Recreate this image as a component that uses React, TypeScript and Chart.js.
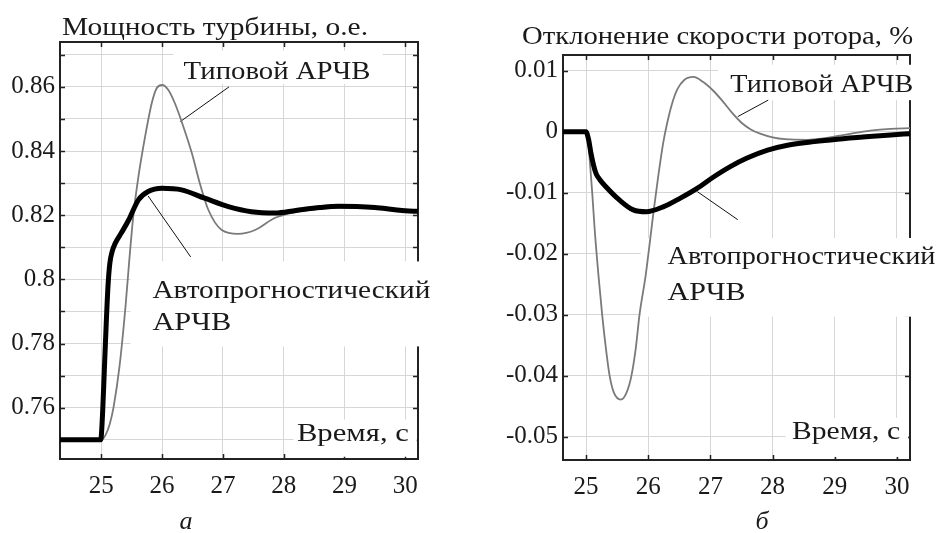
import React, { useEffect, useRef } from "react";
import { Chart, registerables } from "chart.js";

Chart.register(...registerables);

// ---------- DATA ----------
const powerTypicalT = [24.32, 25.0, 25.07, 25.14, 25.2, 25.3, 25.4, 25.46, 25.53, 25.61, 25.72, 25.83, 25.91, 26.0, 26.1, 26.21, 26.35, 26.49, 26.62, 26.76, 26.98, 27.25, 27.53, 27.86, 28.2, 28.6, 29.0, 29.4, 29.8, 30.21];
const powerTypicalV = [0.75, 0.75, 0.7515, 0.755, 0.76, 0.773, 0.792, 0.806, 0.8205, 0.832, 0.8445, 0.855, 0.8596, 0.8606, 0.8591, 0.8549, 0.8476, 0.8393, 0.83, 0.8217, 0.8154, 0.8142, 0.8154, 0.8192, 0.821, 0.822, 0.8224, 0.8222, 0.8216, 0.8213];

const powerAutoT = [24.32, 24.99, 25.02, 25.05, 25.08, 25.11, 25.14, 25.18, 25.23, 25.33, 25.45, 25.61, 25.77, 26.0, 26.32, 26.7, 27.09, 27.47, 27.86, 28.2, 28.6, 28.9, 29.2, 29.5, 29.8, 30.0, 30.21];
const powerAutoV = [0.75, 0.75, 0.758, 0.772, 0.786, 0.798, 0.805, 0.8088, 0.8113, 0.8145, 0.8185, 0.8248, 0.8274, 0.8284, 0.8279, 0.8253, 0.8227, 0.8211, 0.8207, 0.8215, 0.8224, 0.8228, 0.8227, 0.8224, 0.8218, 0.8214, 0.8212];

const speedTypicalT = [24.63, 25.0, 25.03, 25.06, 25.1, 25.14, 25.2, 25.26, 25.32, 25.38, 25.45, 25.56, 25.65, 25.73, 25.8, 25.86, 25.96, 26.05, 26.09, 26.16, 26.24, 26.3, 26.38, 26.47, 26.58, 26.73, 26.88, 27.05, 27.2, 27.35, 27.5, 27.65, 27.8, 28.0, 28.2, 28.57, 28.79, 29.2, 29.57, 29.9, 30.21];
const speedTypicalV = [0, 0, -0.001, -0.0046, -0.01, -0.0161, -0.0235, -0.03, -0.0355, -0.04, -0.0428, -0.0439, -0.0428, -0.04, -0.0355, -0.03, -0.0235, -0.0161, -0.0128, -0.0074, -0.0019, 0.0012, 0.0045, 0.007, 0.0085, 0.009, 0.0082, 0.0067, 0.005, 0.0031, 0.0015, 0.0004, -0.0003, -0.0009, -0.0012, -0.0013, -0.0011, -0.0004, 0.0002, 0.0005, 0.0006];

const speedAutoT = [24.63, 25.0, 25.04, 25.08, 25.12, 25.16, 25.22, 25.32, 25.54, 25.76, 25.97, 26.24, 26.51, 26.78, 27.05, 27.32, 27.59, 27.92, 28.24, 28.67, 29.04, 29.5, 29.9, 30.21];
const speedAutoV = [0, 0, -0.0012, -0.0035, -0.0054, -0.0068, -0.0078, -0.009, -0.0112, -0.0128, -0.0131, -0.0123, -0.0109, -0.0093, -0.0074, -0.0057, -0.0043, -0.003, -0.0022, -0.0016, -0.0012, -0.0008, -0.0005, -0.0003];

const timeTicks = [25, 26, 27, 28, 29, 30];
const powerYTicks = [0.75, 0.76, 0.77, 0.78, 0.79, 0.8, 0.81, 0.82, 0.83, 0.84, 0.85, 0.86, 0.87];
const speedYTicks = [-0.05, -0.04, -0.03, -0.02, -0.01, 0, 0.01];

const labelTypical = "Типовой АРЧВ";
const labelAuto1 = "Автопрогностический";
const labelAuto2 = "АРЧВ";
const labelTime = "Время, с";
const titlePower = "Мощность турбины, о.е.";
const titleSpeed = "Отклонение скорости ротора, %";

// ---------- STYLE ----------
const FONT = "'Liberation Serif', 'Times New Roman', serif";
const FS = 26;
const TICK_FS = 25;
const TEXT = "#1a1a1a";

const toPts = (t: number[], v: number[]) => t.map((x, i) => ({ x, y: v[i] }));

function drawText(ctx: any, text: string, X: number, Y: number, align: string, w?: number) {
  ctx.save();
  ctx.translate(X, Y);
  if (w) {
    const m = ctx.measureText(text).width;
    ctx.scale(w / m, 1);
  }
  ctx.textAlign = align;
  ctx.fillText(text, 0, 0);
  ctx.restore();
}

const annotPlugin = {
  id: "annot",
  beforeDatasetsDraw(chart: any, _args: any, opts: any) {
    const { ctx, chartArea } = chart;
    const { left, right, top, bottom } = chartArea;
    const xs = chart.scales.x;
    const ys = chart.scales.y;
    const px = (v: number) => xs.getPixelForValue(v);
    const py = (v: number) => ys.getPixelForValue(v);
    ctx.save();
    // frame
    ctx.strokeStyle = "#222";
    ctx.lineWidth = 2;
    ctx.strokeRect(left, top, right - left, bottom - top);
    // inner tick marks
    ctx.lineWidth = 1.5;
    ctx.beginPath();
    for (const t of opts.xTicks) {
      const X = Math.round(px(t)) + 0.5;
      ctx.moveTo(X, top); ctx.lineTo(X, top + 5);
      ctx.moveTo(X, bottom); ctx.lineTo(X, bottom - 5);
    }
    for (const t of opts.yTicks) {
      const Y = Math.round(py(t)) + 0.5;
      ctx.moveTo(left, Y); ctx.lineTo(left + 5, Y);
      ctx.moveTo(right, Y); ctx.lineTo(right - 5, Y);
    }
    ctx.stroke();
    // white boxes
    ctx.fillStyle = "#fff";
    for (const b of opts.boxes) {
      const x1 = px(b[0]), x2 = px(b[2]), y1 = py(b[1]), y2 = py(b[3]);
      ctx.fillRect(Math.min(x1, x2), Math.min(y1, y2), Math.abs(x2 - x1), Math.abs(y2 - y1));
    }
    // labels
    ctx.fillStyle = TEXT;
    ctx.font = `${FS}px ${FONT}`;
    ctx.textBaseline = "middle";
    for (const l of opts.labels) {
      drawText(ctx, l.text, px(l.x), py(l.y), l.align || "left", l.w);
    }
    // leader lines
    ctx.strokeStyle = "#111";
    ctx.lineWidth = 1;
    ctx.beginPath();
    for (const s of opts.leaders) {
      ctx.moveTo(px(s[0]), py(s[1]));
      ctx.lineTo(px(s[2]), py(s[3]));
    }
    ctx.stroke();
    // title
    ctx.font = `${FS}px ${FONT}`;
    drawText(ctx, opts.title.text, left + opts.title.dx, top + opts.title.dy, "left", opts.title.w);
    // sub-caption
    ctx.font = `italic ${FS}px ${FONT}`;
    drawText(ctx, opts.sub.text, opts.sub.px, opts.sub.py, "center");
    ctx.restore();
  },
};

function makeConfig(p: any): any {
  return {
    type: "line",
    data: {
      datasets: [
        {
          data: p.auto,
          borderColor: "#000",
          borderWidth: 5,
          pointRadius: 0,
          cubicInterpolationMode: "monotone",
          fill: false,
        },
        {
          data: p.typical,
          borderColor: "#7a7a7a",
          borderWidth: 1.8,
          pointRadius: 0,
          cubicInterpolationMode: "monotone",
          fill: false,
        },
      ],
    },
    options: {
      responsive: false,
      animation: false,
      devicePixelRatio: 1,
      layout: { padding: { top: p.padTop, right: p.padRight, left: 0, bottom: 0 } },
      plugins: {
        legend: { display: false },
        tooltip: { enabled: false },
        annot: p.annot,
      },
      scales: {
        x: {
          type: "linear",
          min: p.xMin,
          max: p.xMax,
          afterBuildTicks: (s: any) => { s.ticks = timeTicks.map((v) => ({ value: v })); },
          afterFit: (s: any) => { s.height = p.xAxisH; },
          grid: { color: "#d6d6d6", lineWidth: 1, drawTicks: false },
          border: { display: false },
          ticks: {
            font: { family: FONT, size: TICK_FS },
            color: TEXT,
            padding: p.xPad,
            maxRotation: 0,
            autoSkip: false,
            callback: (v: number) => String(v),
          },
        },
        y: {
          type: "linear",
          min: p.yMin,
          max: p.yMax,
          afterBuildTicks: (s: any) => { s.ticks = p.yTicks.map((v: number) => ({ value: v })); },
          afterFit: (s: any) => { s.width = p.yAxisW; },
          grid: { color: "#d6d6d6", lineWidth: 1, drawTicks: false },
          border: { display: false },
          ticks: {
            font: { family: FONT, size: TICK_FS },
            color: TEXT,
            padding: 5,
            autoSkip: false,
            callback: (v: number) => {
              if (p.labelEvery && Math.abs(v / p.labelEvery - Math.round(v / p.labelEvery)) > 1e-6) return "";
              return String(Number(v.toFixed(3)));
            },
          },
        },
      },
    },
    plugins: [annotPlugin],
  };
}

export default function App() {
  const leftRef = useRef<HTMLCanvasElement>(null);
  const rightRef = useRef<HTMLCanvasElement>(null);

  useEffect(() => {
    const left = new Chart(
      leftRef.current as HTMLCanvasElement,
      makeConfig({
        auto: toPts(powerAutoT, powerAutoV),
        typical: toPts(powerTypicalT, powerTypicalV),
        xMin: 24.32, xMax: 30.21, yMin: 0.744, yMax: 0.874,
        yTicks: powerYTicks, labelEvery: 0.02,
        padTop: 42, padRight: 22, xAxisH: 74, yAxisW: 60, xPad: 12,
        annot: {
          xTicks: timeTicks,
          yTicks: powerYTicks,
          boxes: [
            [26.19, 0.8713, 29.63, 0.8609],
            [25.48, 0.8056, 30.8, 0.7791],
            [28.16, 0.7563, 30.19, 0.7447],
          ],
          labels: [
            { text: labelTypical, x: 26.35, y: 0.8647, w: 187 },
            { text: labelAuto1, x: 25.84, y: 0.7963, w: 278 },
            { text: labelAuto2, x: 25.84, y: 0.7863, w: 79 },
            { text: labelTime, x: 30.06, y: 0.7516, align: "right", w: 112 },
          ],
          leaders: [
            [27.1, 0.86, 26.3, 0.8492],
            [25.77, 0.826, 26.47, 0.807],
          ],
          title: { text: titlePower, dx: 2, dy: -14, w: 306 },
          sub: { text: "а", px: 186, py: 522 },
        },
      })
    );
    const right = new Chart(
      rightRef.current as HTMLCanvasElement,
      makeConfig({
        auto: toPts(speedAutoT, speedAutoV),
        typical: toPts(speedTypicalT, speedTypicalV),
        xMin: 24.63, xMax: 30.21, yMin: -0.0538, yMax: 0.0126,
        yTicks: speedYTicks, labelEvery: 0,
        padTop: 55, padRight: 29, xAxisH: 73, yAxisW: 93, xPad: 12,
        annot: {
          xTicks: timeTicks,
          yTicks: speedYTicks,
          boxes: [
            [27.12, 0.011, 30.4, 0.0052],
            [25.88, -0.0174, 30.8, -0.0303],
            [28.21, -0.0469, 30.18, -0.0533],
          ],
          labels: [
            { text: labelTypical, x: 27.32, y: 0.0077, w: 183 },
            { text: labelAuto1, x: 26.31, y: -0.0205, w: 268 },
            { text: labelAuto2, x: 26.31, y: -0.0264, w: 78 },
            { text: labelTime, x: 30.05, y: -0.0493, align: "right", w: 108 },
          ],
          leaders: [
            [27.93, 0.0052, 27.44, 0.0025],
            [26.79, -0.0098, 27.44, -0.0144],
          ],
          title: { text: titleSpeed, dx: -41, dy: -18, w: 391 },
          sub: { text: "б", px: 292, py: 522 },
        },
      })
    );
    return () => {
      left.destroy();
      right.destroy();
    };
  }, []);

  return (
    <div style={{ position: "absolute", left: 0, top: 0, width: 939, height: 533, background: "#fff" }}>
      <canvas ref={leftRef} width={440} height={533} style={{ position: "absolute", left: 0, top: 0, width: 440, height: 533 }} />
      <canvas ref={rightRef} width={469} height={533} style={{ position: "absolute", left: 470, top: 0, width: 469, height: 533 }} />
    </div>
  );
}
